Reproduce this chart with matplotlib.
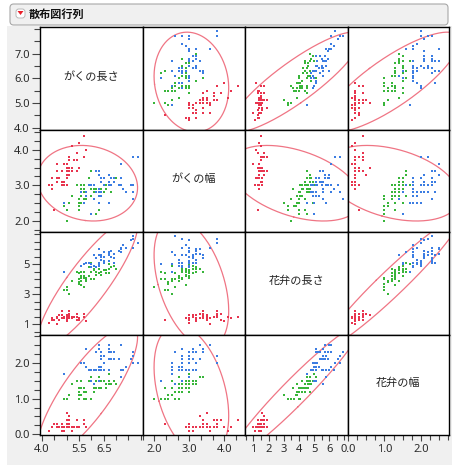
import numpy as np
import matplotlib
matplotlib.use("Agg")
import matplotlib.pyplot as plt
import matplotlib.patches as patches

plt.rcParams['font.family'] = ['Noto Sans', 'Noto Sans CJK JP', 'DejaVu Sans']

# iris データ (がくの長さ, がくの幅, 花弁の長さ, 花弁の幅)
sepal_length = [
    5.1, 4.9, 4.7, 4.6, 5.0, 5.4, 4.6, 5.0, 4.4, 4.9, 5.4, 4.8, 4.8, 4.3, 5.8, 5.7, 5.4, 5.1, 5.7, 5.1,
    5.4, 5.1, 4.6, 5.1, 4.8, 5.0, 5.0, 5.2, 5.2, 4.7, 4.8, 5.4, 5.2, 5.5, 4.9, 5.0, 5.5, 4.9, 4.4, 5.1,
    5.0, 4.5, 4.4, 5.0, 5.1, 4.8, 5.1, 4.6, 5.3, 5.0,
    7.0, 6.4, 6.9, 5.5, 6.5, 5.7, 6.3, 4.9, 6.6, 5.2, 5.0, 5.9, 6.0, 6.1, 5.6, 6.7, 5.6, 5.8, 6.2, 5.6,
    5.9, 6.1, 6.3, 6.1, 6.4, 6.6, 6.8, 6.7, 6.0, 5.7, 5.5, 5.5, 5.8, 6.0, 5.4, 6.0, 6.7, 6.3, 5.6, 5.5,
    5.5, 6.1, 5.8, 5.0, 5.6, 5.7, 5.7, 6.2, 5.1, 5.7,
    6.3, 5.8, 7.1, 6.3, 6.5, 7.6, 4.9, 7.3, 6.7, 7.2, 6.5, 6.4, 6.8, 5.7, 5.8, 6.4, 6.5, 7.7, 7.7, 6.0,
    6.9, 5.6, 7.7, 6.3, 6.7, 7.2, 6.2, 6.1, 6.4, 7.2, 7.4, 7.9, 6.4, 6.3, 6.1, 7.7, 6.3, 6.4, 6.0, 6.9,
    6.7, 6.9, 5.8, 6.8, 6.7, 6.7, 6.3, 6.5, 6.2, 5.9]
sepal_width = [
    3.5, 3.0, 3.2, 3.1, 3.6, 3.9, 3.4, 3.4, 2.9, 3.1, 3.7, 3.4, 3.0, 3.0, 4.0, 4.4, 3.9, 3.5, 3.8, 3.8,
    3.4, 3.7, 3.6, 3.3, 3.4, 3.0, 3.4, 3.5, 3.4, 3.2, 3.1, 3.4, 4.1, 4.2, 3.1, 3.2, 3.5, 3.6, 3.0, 3.4,
    3.5, 2.3, 3.2, 3.5, 3.8, 3.0, 3.8, 3.2, 3.7, 3.3,
    3.2, 3.2, 3.1, 2.3, 2.8, 2.8, 3.3, 2.4, 2.9, 2.7, 2.0, 3.0, 2.2, 2.9, 2.9, 3.1, 3.0, 2.7, 2.2, 2.5,
    3.2, 2.8, 2.5, 2.8, 2.9, 3.0, 2.8, 3.0, 2.9, 2.6, 2.4, 2.4, 2.7, 2.7, 3.0, 3.4, 3.1, 2.3, 3.0, 2.5,
    2.6, 3.0, 2.6, 2.3, 2.7, 3.0, 2.9, 2.9, 2.5, 2.8,
    3.3, 2.7, 3.0, 2.9, 3.0, 3.0, 2.5, 2.9, 2.5, 3.6, 3.2, 2.7, 3.0, 2.5, 2.8, 3.2, 3.0, 3.8, 2.6, 2.2,
    3.2, 2.8, 2.8, 2.7, 3.3, 3.2, 2.8, 3.0, 2.8, 3.0, 2.8, 3.8, 2.8, 2.8, 2.6, 3.0, 3.4, 3.1, 3.0, 3.1,
    3.1, 3.1, 2.7, 3.2, 3.3, 3.0, 2.5, 3.0, 3.4, 3.0]
petal_length = [
    1.4, 1.4, 1.3, 1.5, 1.4, 1.7, 1.4, 1.5, 1.4, 1.5, 1.5, 1.6, 1.4, 1.1, 1.2, 1.5, 1.3, 1.4, 1.7, 1.5,
    1.7, 1.5, 1.0, 1.7, 1.9, 1.6, 1.6, 1.5, 1.4, 1.6, 1.6, 1.5, 1.5, 1.4, 1.5, 1.2, 1.3, 1.4, 1.3, 1.5,
    1.3, 1.3, 1.3, 1.6, 1.9, 1.4, 1.6, 1.4, 1.5, 1.4,
    4.7, 4.5, 4.9, 4.0, 4.6, 4.5, 4.7, 3.3, 4.6, 3.9, 3.5, 4.2, 4.0, 4.7, 3.6, 4.4, 4.5, 4.1, 4.5, 3.9,
    4.8, 4.0, 4.9, 4.7, 4.3, 4.4, 4.8, 5.0, 4.5, 3.5, 3.8, 3.7, 3.9, 5.1, 4.5, 4.5, 4.7, 4.4, 4.1, 4.0,
    4.4, 4.6, 4.0, 3.3, 4.2, 4.2, 4.2, 4.3, 3.0, 4.1,
    6.0, 5.1, 5.9, 5.6, 5.8, 6.6, 4.5, 6.3, 5.8, 6.1, 5.1, 5.3, 5.5, 5.0, 5.1, 5.3, 5.5, 6.7, 6.9, 5.0,
    5.7, 4.9, 6.7, 4.9, 5.7, 6.0, 4.8, 4.9, 5.6, 5.8, 6.1, 6.4, 5.6, 5.1, 5.6, 6.1, 5.6, 5.5, 4.8, 5.4,
    5.6, 5.1, 5.1, 5.9, 5.7, 5.2, 5.0, 5.2, 5.4, 5.1]
petal_width = [
    0.2, 0.2, 0.2, 0.2, 0.2, 0.4, 0.3, 0.2, 0.2, 0.1, 0.2, 0.2, 0.1, 0.1, 0.2, 0.4, 0.4, 0.3, 0.3, 0.3,
    0.2, 0.4, 0.2, 0.5, 0.2, 0.2, 0.4, 0.2, 0.2, 0.2, 0.2, 0.4, 0.1, 0.2, 0.2, 0.2, 0.2, 0.1, 0.2, 0.2,
    0.3, 0.3, 0.2, 0.6, 0.4, 0.3, 0.2, 0.2, 0.2, 0.2,
    1.4, 1.5, 1.5, 1.3, 1.5, 1.3, 1.6, 1.0, 1.3, 1.4, 1.0, 1.5, 1.0, 1.4, 1.3, 1.4, 1.5, 1.0, 1.5, 1.1,
    1.8, 1.3, 1.5, 1.2, 1.3, 1.4, 1.4, 1.7, 1.5, 1.0, 1.1, 1.0, 1.2, 1.6, 1.5, 1.6, 1.5, 1.3, 1.3, 1.3,
    1.2, 1.4, 1.2, 1.0, 1.3, 1.2, 1.3, 1.3, 1.1, 1.3,
    2.5, 1.9, 2.1, 1.8, 2.2, 2.1, 1.7, 1.8, 1.8, 2.5, 2.0, 1.9, 2.1, 2.0, 2.4, 2.3, 1.8, 2.2, 2.3, 1.5,
    2.3, 2.0, 2.0, 1.8, 2.1, 1.8, 1.8, 1.8, 2.1, 1.6, 1.9, 2.0, 2.2, 1.5, 1.4, 2.3, 2.4, 1.8, 1.8, 2.1,
    2.4, 2.3, 1.9, 2.3, 2.5, 2.3, 1.9, 2.0, 2.3, 1.8]
species = ["setosa"] * 50 + ["versicolor"] * 50 + ["virginica"] * 50

var_names = ["がくの長さ", "がくの幅", "花弁の長さ", "花弁の幅"]
species_order = ["setosa", "versicolor", "virginica"]

# x軸・y軸のラベル (JMP の表示どおり)
x_tick_labels = [[4.0, 5.5, 6.5], [2.0, 3.0, 4.0], [1, 2, 3, 4, 5, 6], [0.0, 1.0, 2.0]]
y_tick_labels = [[4.0, 5.0, 6.0, 7.0], [2.0, 3.0, 4.0], [1, 3, 5], [0.0, 1.0, 2.0]]

# ---- スタイル ----
colors = {"setosa": "#e8344e", "versicolor": "#38b53a", "virginica": "#3c7de2"}
ellipse_color = "#ee6677"
x_limits = [(3.92, 8.07), (1.66, 4.59), (0.45, 7.2), (-0.02, 2.78)]
y_limits = [(3.90, 8.08), (1.68, 4.56), (0.33, 7.15), (-0.02, 2.80)]
x_steps = [0.5, 1 / 3, 0.5, 0.25]
y_steps = [0.5, 0.25, 0.5, 0.25]
x_fmt = ["{:.1f}", "{:.1f}", "{:d}", "{:.1f}"]
y_fmt = ["{:.1f}", "{:.1f}", "{:d}", "{:.1f}"]

W, H = 457, 465
col_edges = [40, 142.5, 245, 347.5, 449]
row_edges = [27, 130, 232, 334.5, 435]

data = np.array([sepal_length, sepal_width, petal_length, petal_width])
spec = np.array(species)


def px_rect(x0, y0, x1, y1):
    return [x0 / W, 1 - y1 / H, (x1 - x0) / W, (y1 - y0) / H]


def ellipse_points(x, y, conf=0.95):
    # 二変量正規の確率楕円
    mean = np.array([x.mean(), y.mean()])
    cov = np.cov(x, y)
    vals, vecs = np.linalg.eigh(cov)
    r = np.sqrt(-2 * np.log(1 - conf))
    t = np.linspace(0, 2 * np.pi, 300)
    circ = np.vstack([np.cos(t), np.sin(t)]) * np.sqrt(vals)[:, None] * r
    pts = vecs @ circ + mean[:, None]
    return pts[0], pts[1]


def minor_positions(lo, hi, step, majors):
    start = np.ceil((lo - 1e-6) / step) * step
    pos = np.arange(start, hi + 1e-6, step)
    return [p for p in pos if min(abs(p - m) for m in majors) > 1e-3]


fig = plt.figure(figsize=(W / 100, H / 100), dpi=100)
fig.patch.set_facecolor("white")

# 背景の灰色パネルとタイトルバー
fig.patches.append(patches.Rectangle((7 / W, 0), (452 - 7) / W, (465 - 26) / H,
                                     transform=fig.transFigure, facecolor="#f0f0f0",
                                     edgecolor="none", zorder=-10))
fig.patches.append(patches.FancyBboxPatch((10 / W, 1 - 25 / H), (448 - 10) / W, 21 / H,
                                          boxstyle="round,pad=0,rounding_size=0.008",
                                          transform=fig.transFigure, facecolor="#f0f0f0",
                                          edgecolor="#a8a8a8", linewidth=0.8, zorder=-9))
fig.patches.append(patches.FancyBboxPatch((16 / W, 1 - 18 / H), 9 / W, 9 / H,
                                          boxstyle="round,pad=0,rounding_size=0.006",
                                          transform=fig.transFigure, facecolor="white",
                                          edgecolor="#b0b0b0", linewidth=0.6, zorder=-8))
fig.patches.append(patches.Polygon([(17.5 / W, 1 - 11 / H), (23.5 / W, 1 - 11 / H), (20.5 / W, 1 - 15 / H)],
                                   closed=True, transform=fig.transFigure, facecolor="#e8202a",
                                   edgecolor="none", zorder=-7))
fig.text(29 / W, 1 - 14.5 / H, "散布図行列", fontsize=8, fontweight="bold",
         family=["Noto Sans CJK JP", "DejaVu Sans"], va="center", ha="left", color="#111111")

for r in range(4):
    for c in range(4):
        ax = fig.add_axes(px_rect(col_edges[c], row_edges[r], col_edges[c + 1], row_edges[r + 1]))
        ax.set_zorder(5)
        ax.set_facecolor("white")
        ax.set_xlim(*x_limits[c])
        ax.set_ylim(*y_limits[r])
        for s in ax.spines.values():
            s.set_color("black")
            s.set_linewidth(1.0)

        if r == c:
            ax.text(0.5, 0.52, var_names[r], transform=ax.transAxes, ha="center", va="center",
                    fontsize=8, family=["Noto Sans CJK JP", "DejaVu Sans"], color="#222222")
        else:
            x = data[c]
            y = data[r]
            ex, ey = ellipse_points(x, y)
            ax.plot(ex, ey, color=ellipse_color, lw=0.9, alpha=0.9, zorder=2)
            for sp in species_order:
                m = spec == sp
                ax.scatter(x[m], y[m], s=2.6, marker="s", color=colors[sp], linewidths=0, zorder=3)

        # 目盛り
        ax.set_xticks([])
        ax.set_yticks([])
        if c == 0:
            majors = y_tick_labels[r]
            ax.set_yticks(majors)
            ax.set_yticklabels([y_fmt[r].format(v) for v in majors])
            ax.set_yticks(minor_positions(*y_limits[r], y_steps[r], majors), minor=True)
            ax.tick_params(axis="y", which="major", length=6, width=0.8, color="#444444",
                           labelsize=8, pad=1.5, labelcolor="#2a2a2a")
            ax.tick_params(axis="y", which="minor", length=4, width=0.8, color="#444444")
        if r == 3:
            majors = x_tick_labels[c]
            ax.set_xticks(majors)
            ax.set_xticklabels([x_fmt[c].format(v) for v in majors])
            ax.set_xticks(minor_positions(*x_limits[c], x_steps[c], majors), minor=True)
            ax.tick_params(axis="x", which="major", length=4.5, width=0.8, color="#444444",
                           labelsize=8, pad=2, labelcolor="#2a2a2a")
            ax.tick_params(axis="x", which="minor", length=3.5, width=0.8, color="#444444")

plt.savefig("out.png", dpi=100, facecolor=fig.get_facecolor())
